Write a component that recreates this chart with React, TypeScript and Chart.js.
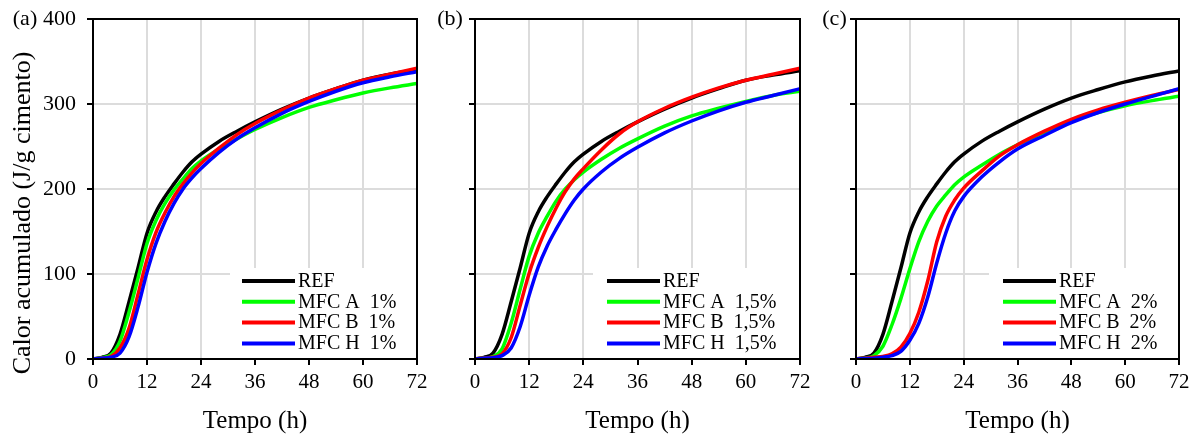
import React, { useEffect, useRef } from 'react';
import { Chart, registerables } from 'chart.js';

Chart.register(...registerables);

// ---------------- data ----------------
const hours = [0, 2, 4, 6, 8, 10, 12, 14, 16, 18, 20, 22, 24, 28, 32, 36, 42, 48, 54, 60, 66, 72];
const xTickValues = [0, 12, 24, 36, 48, 60, 72];
const yTickValues = [0, 100, 200, 300, 400];

// panel (a) 1%
const refA = [0, 2, 7, 29, 67, 107, 148, 173, 191, 206, 220, 232, 241, 256, 268, 279, 294, 307, 318, 328, 335, 340];
const mfcA1 = [0, 1.5, 5, 21, 55, 95, 136, 163, 183, 199, 212, 224, 233, 247, 259, 270, 284, 296, 305, 313, 319, 324];
const mfcB1 = [0, 1, 3, 13, 36, 76, 117, 149, 172, 191, 206, 219, 230, 248, 264, 277, 293, 307, 318, 328, 335, 342];
const mfcH1 = [0, 1, 2, 7, 26, 61, 102, 136, 162, 183, 200, 213, 224, 243, 259, 272, 289, 303, 315, 325, 332, 338];

// panel (b) 1,5%
const refB = [0, 2, 7, 29, 67, 107, 148, 173, 191, 206, 220, 232, 241, 256, 268, 279, 294, 307, 318, 328, 334, 339];
const mfcA15 = [0, 1, 3, 12, 42, 82, 121, 148, 168, 186, 200, 211, 220, 235, 248, 259, 274, 286, 295, 303, 310, 315];
const mfcB15 = [0, 1, 2, 6, 25, 63, 101, 131, 156, 178, 197, 212, 224, 246, 265, 279, 295, 308, 319, 328, 335, 342];
const mfcH15 = [0, 1, 1.5, 4, 13, 38, 75, 108, 133, 153, 171, 187, 200, 220, 236, 249, 266, 280, 292, 302, 310, 318];

// panel (c) 2%
const refC = [0, 2, 7, 29, 67, 107, 148, 173, 191, 206, 220, 232, 241, 256, 268, 279, 294, 307, 317, 326, 333, 339];
const mfcA2 = [0, 1, 4, 15, 40, 71, 106, 138, 162, 180, 193, 205, 214, 228, 241, 252, 267, 280, 290, 298, 304, 309];
const mfcB2 = [0, 1, 2, 3, 6, 14, 30, 55, 92, 138, 168, 187, 201, 221, 239, 252, 268, 282, 293, 302, 310, 317];
const mfcH2 = [0, 0.5, 1, 2, 4, 9, 22, 42, 73, 113, 148, 174, 191, 214, 232, 247, 263, 278, 290, 300, 309, 318];

const legendA = ['REF', 'MFC A  1%', 'MFC B  1%', 'MFC H  1%'];
const legendB = ['REF', 'MFC A  1,5%', 'MFC B  1,5%', 'MFC H  1,5%'];
const legendC = ['REF', 'MFC A  2%', 'MFC B  2%', 'MFC H  2%'];
const panelLabels = ['(a)', '(b)', '(c)'];
const yTitle = 'Calor acumulado (J/g cimento)';
const xTitle = 'Tempo (h)';

const colors = ['#000000', '#00ff00', '#ff0000', '#0000ff'];
const FONT = "'Liberation Serif', 'Times New Roman', serif";

interface Panel {
  left: number;
  width: number;
  yWidth: number;
  padRight: number;
  showY: boolean;
  label: string;
  labelX: number;
  legend: string[];
  series: number[][];
  boxFromRight: number;
  lineFromBox: number;
}

const panels: Panel[] = [
  { left: 0, width: 440, yWidth: 93, padRight: 23, showY: true, label: panelLabels[0], labelX: 25, legend: legendA, series: [refA, mfcA1, mfcB1, mfcH1], boxFromRight: 187, lineFromBox: 12 },
  { left: 425, width: 400, yWidth: 50, padRight: 25, showY: false, label: panelLabels[1], labelX: 450, legend: legendB, series: [refB, mfcA15, mfcB15, mfcH15], boxFromRight: 207, lineFromBox: 14 },
  { left: 806, width: 392, yWidth: 50, padRight: 19, showY: false, label: panelLabels[2], labelX: 834.5, legend: legendC, series: [refC, mfcA2, mfcB2, mfcH2], boxFromRight: 190, lineFromBox: 14 },
];

const H = 434;
const TOP = 19;
const XAXIS_H = 75;

function makePlugin(p: Panel, idx: number) {
  return {
    id: 'panelDeco' + idx,
    beforeDatasetsDraw(chart: any) {
      const { ctx, chartArea: a } = chart;
      ctx.save();
      ctx.fillStyle = '#ffffff';
      const bx = a.right - p.boxFromRight;
      const by = a.top + 249;
      ctx.fillRect(bx, by, a.right - bx, a.bottom - by);
      ctx.restore();
    },
    afterDatasetsDraw(chart: any) {
      const { ctx, chartArea: a } = chart;
      ctx.save();
      // legend
      const bx = a.right - p.boxFromRight;
      const lx = bx + p.lineFromBox;
      ctx.font = `20px ${FONT}`;
      ctx.textBaseline = 'middle';
      ctx.textAlign = 'left';
      p.legend.forEach((txt, i) => {
        const y = a.top + 262 + i * 20.8;
        ctx.strokeStyle = colors[i];
        ctx.lineWidth = 4;
        ctx.lineCap = 'butt';
        ctx.beginPath();
        ctx.moveTo(lx, y);
        ctx.lineTo(lx + 53, y);
        ctx.stroke();
        ctx.fillStyle = '#000000';
        ctx.fillText(txt, lx + 56, y + 0.5);
      });
      // frame
      ctx.strokeStyle = '#000000';
      ctx.lineWidth = 2;
      ctx.strokeRect(a.left, a.top, a.right - a.left, a.bottom - a.top);
      // panel label
      ctx.fillStyle = '#000000';
      ctx.font = `22px ${FONT}`;
      ctx.textAlign = 'center';
      ctx.textBaseline = 'middle';
      ctx.fillText(p.label, p.labelX - p.left, 19);
      // y title
      if (p.showY) {
        ctx.translate(23, 213);
        ctx.rotate(-Math.PI / 2);
        ctx.font = `26px ${FONT}`;
        ctx.fillText(yTitle, 0, 0);
      }
      ctx.restore();
    },
  };
}

function buildChart(canvas: HTMLCanvasElement, p: Panel, idx: number) {
  const datasets = p.series.map((s, i) => ({
    label: p.legend[i],
    data: hours.map((h, j) => ({ x: h, y: s[j] })),
    borderColor: colors[i],
    backgroundColor: colors[i],
    borderWidth: 3.5,
    pointRadius: 0,
    fill: false,
    cubicInterpolationMode: 'monotone' as const,
    order: 4 - i,
  }));
  return new Chart(canvas, {
    type: 'line',
    data: { datasets },
    options: {
      animation: false,
      responsive: false,
      devicePixelRatio: 1,
      events: [],
      layout: { padding: { left: 0, top: TOP, right: p.padRight, bottom: 0 } },
      plugins: { legend: { display: false }, tooltip: { enabled: false } },
      scales: {
        x: {
          type: 'linear',
          min: 0,
          max: 72,
          afterBuildTicks: (s: any) => {
            s.ticks = xTickValues.map((v) => ({ value: v }));
          },
          afterFit: (s: any) => {
            s.height = XAXIS_H;
            s.paddingLeft = 0;
            s.paddingRight = 0;
          },
          border: { display: false },
          grid: { color: '#dcdcdc', lineWidth: 2, tickColor: '#000000', tickLength: 6, tickWidth: 2, drawTicks: true },
          ticks: { color: '#000000', font: { family: FONT, size: 21 }, padding: 5, maxRotation: 0 },
          title: { display: true, text: xTitle, color: '#000000', font: { family: FONT, size: 25, lineHeight: 1 }, padding: { top: 0, bottom: 0 } },
        },
        y: {
          type: 'linear',
          min: 0,
          max: 400,
          afterBuildTicks: (s: any) => {
            s.ticks = yTickValues.map((v) => ({ value: v }));
          },
          afterFit: (s: any) => {
            s.width = p.yWidth;
            s.paddingTop = 0;
            s.paddingBottom = 0;
          },
          border: { display: false },
          grid: { color: '#dcdcdc', lineWidth: 2, tickColor: '#000000', tickLength: 6, tickWidth: 2, drawTicks: true },
          ticks: { display: p.showY, color: '#000000', font: { family: FONT, size: 22 }, padding: 11 },
        },
      },
    },
    plugins: [makePlugin(p, idx)],
  });
}

export default function App() {
  const r0 = useRef<HTMLCanvasElement>(null);
  const r1 = useRef<HTMLCanvasElement>(null);
  const r2 = useRef<HTMLCanvasElement>(null);
  const refs = [r0, r1, r2];

  useEffect(() => {
    const charts = refs.map((r, i) => (r.current ? buildChart(r.current, panels[i], i) : null));
    return () => {
      charts.forEach((c) => c && c.destroy());
    };
  }, []);

  return (
    <div style={{ position: 'fixed', left: 0, top: 0, width: 1198, height: H, background: '#ffffff', overflow: 'hidden' }}>
      {panels.map((p, i) => (
        <canvas
          key={i}
          ref={refs[i]}
          width={p.width}
          height={H}
          style={{ position: 'absolute', left: p.left, top: 0, width: p.width, height: H }}
        />
      ))}
    </div>
  );
}
